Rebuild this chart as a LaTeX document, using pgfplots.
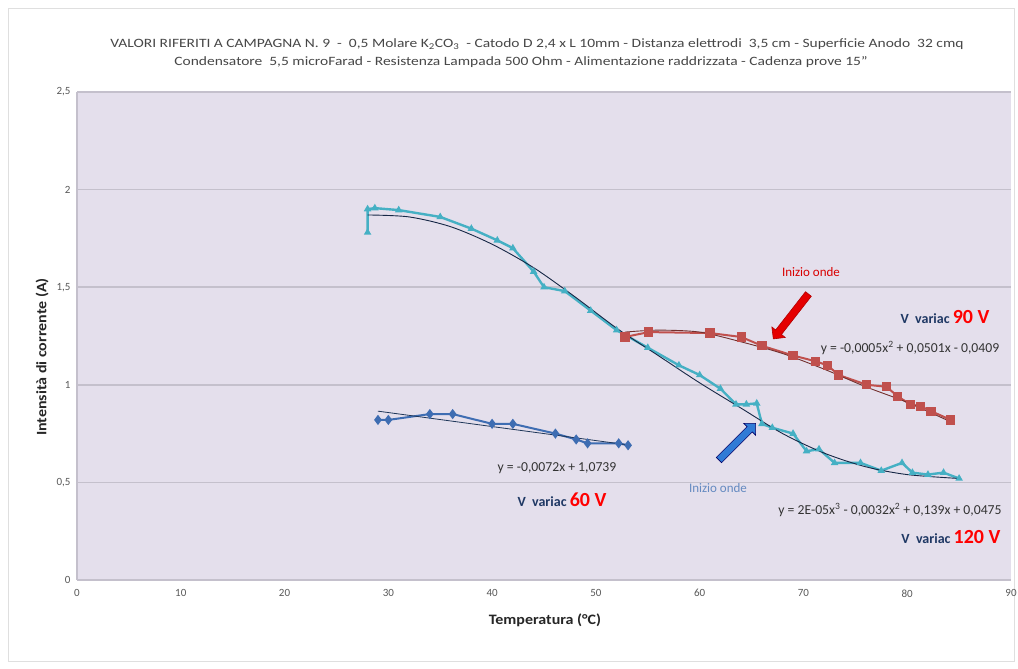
\documentclass[border=0pt]{standalone}
\usepackage{fontspec}
\setmainfont{Carlito}
\usepackage{pgfplots}
\pgfplotsset{compat=1.18}
\usetikzlibrary{shapes.arrows}
\definecolor{bgc}{HTML}{E4DFEC}
\definecolor{gridc}{HTML}{C4C0CC}
\definecolor{s60}{HTML}{3E6DB2}
\definecolor{s90}{HTML}{C0504D}
\definecolor{s120}{HTML}{45B0C4}
\definecolor{navy}{HTML}{1F3864}
\definecolor{tickc}{HTML}{595959}
\begin{document}
\begin{tikzpicture}[x=1pt,y=1pt]
\path[use as bounding box] (0,0) rectangle (1018,669);
\fill[white] (0,0) rectangle (1018,669);
\draw[gray!25, line width=0.8pt] (8,8) rectangle (1014,661);
\begin{axis}[
  at={(77pt,89pt)}, anchor=south west,
  scale only axis, width=934pt, height=488pt,
  xmin=0, xmax=90, ymin=0, ymax=2.5,
  xtick={0,10,...,90}, ytick={0,0.5,1,1.5,2,2.5},
  yticklabels={0,{0,5},1,{1,5},2,{2,5}},
  axis background/.style={fill=bgc},
  ymajorgrids, grid style={line width=1.6pt, color=gridc},
  axis lines*=left, axis line style={gridc, line width=1.2pt},
  major tick length=0pt,
  /pgf/number format/assume math mode=true,
  tick label style={font=\fontsize{11}{12}\selectfont, text=tickc},
  xticklabel style={yshift=-6pt},
  yticklabel style={xshift=-3pt},
  clip=false,
]
% 120 V
\addplot[s120, line width=2.4pt, mark=triangle*, mark size=2pt, mark options={fill=s120}] coordinates {
(28,1.78) (28,1.90) (28.7,1.905) (31,1.895) (35,1.86) (38,1.80) (40.5,1.74) (42,1.70)
(44,1.58) (45,1.50) (47,1.48) (49.5,1.38) (52,1.28) (55,1.19) (58,1.10) (60,1.05)
(62,0.98) (63.5,0.90) (64.5,0.90) (65.5,0.905) (66,0.80) (67,0.78) (69,0.75) (70.3,0.66)
(71.5,0.67) (73,0.60) (75.5,0.60) (77.5,0.56) (79.5,0.60) (80.5,0.55) (82,0.54) (83.5,0.55) (85,0.52)};
\addplot[navy!70!black, line width=0.9pt, smooth] coordinates {
(28,1.87) (32,1.86) (36,1.81) (40,1.72) (44,1.60) (48,1.45) (52,1.29) (56,1.15)
(60,1.01) (64,0.88) (68,0.75) (72,0.65) (76,0.58) (80,0.54) (85,0.52)};
% 90 V
\addplot[s90, line width=2pt, mark=square*, mark size=3.6pt, mark options={fill=s90}] coordinates {
(52.8,1.245) (55.1,1.27) (61,1.265) (64,1.245) (66,1.20) (69,1.15) (71.2,1.12) (72.3,1.10)
(73.4,1.05) (76.1,1.00) (78,0.99) (79.1,0.94) (80.3,0.90) (81.3,0.89) (82.3,0.865) (84.2,0.82)};
\addplot[s90!60!black, line width=0.9pt, smooth] coordinates {
(52.8,1.27) (56,1.28) (60,1.27) (64,1.22) (68,1.16) (72,1.08) (76,0.99) (80,0.91) (84.2,0.81)};
% 60 V
\addplot[s60, line width=2pt, mark=diamond*, mark size=3.5pt, mark options={fill=s60}] coordinates {
(29,0.82) (30,0.82) (34,0.85) (36.2,0.85) (40,0.80) (42,0.80) (46.1,0.75) (48.1,0.72)
(49.2,0.70) (52.2,0.70) (53.1,0.69)};
\addplot[s60!50!black, line width=0.8pt] coordinates {(29,0.865) (53.1,0.692)};
\end{axis}
% titles
\node[font=\fontsize{15.5}{17}\selectfont, text=black!72, yscale=0.82] at (537,625) {VALORI RIFERITI A CAMPAGNA N. 9 \ - \ 0,5 Molare K\textsubscript{2}CO\textsubscript{3} \ - Catodo D 2,4 x L 10mm - Distanza elettrodi \ 3,5 cm - Superficie Anodo \ 32 cmq};
\node[font=\fontsize{15.5}{17}\selectfont, text=black!72, yscale=0.82] at (521,607) {Condensatore \ 5,5 microFarad - Resistenza Lampada 500 Ohm - Alimentazione raddrizzata - Cadenza prove 15''};
% axis labels
\node[font=\bfseries\fontsize{16}{18}\selectfont, text=black!85, yscale=0.9] at (545,49) {Temperatura (°C)};
\node[font=\bfseries\fontsize{16}{18}\selectfont, text=black!85, rotate=90, yscale=0.9] at (42,312) {Intensità di corrente (A)};
% annotations
\node[font=\fontsize{13}{14}\selectfont, text=red!85!black] at (811,397) {Inizio onde};
\node[single arrow, draw=red!70!black, fill=red!90!black, line width=0.6pt, minimum height=57pt, minimum width=17pt, single arrow head extend=3pt, inner sep=2pt, rotate=232] at (792,354) {};
\node[anchor=east, font=\fontsize{14}{16}\selectfont] at (993,352) {\textbf{\textcolor{navy}{V \ variac}} \textcolor{red}{\bfseries\fontsize{20}{22}\selectfont 90 V}};
\node[font=\fontsize{13.7}{15}\selectfont, text=black!80] at (910,321) {y = -0,0005x\textsuperscript{2} + 0,0501x - 0,0409};
\node[font=\fontsize{13.7}{15}\selectfont, text=black!80] at (557,201) {y = -0,0072x + 1,0739};
\node[font=\fontsize{14}{16}\selectfont] at (562,169) {\textbf{\textcolor{navy}{V \ variac}} \textcolor{red}{\bfseries\fontsize{20}{22}\selectfont 60 V}};
\node[single arrow, draw=blue!40!black, fill=s120!70!blue, line width=0.6pt, minimum height=52pt, minimum width=17pt, single arrow head extend=3pt, inner sep=2pt, rotate=45] at (736,226) {};
\node[font=\fontsize{13}{14}\selectfont, text=s60!80!white] at (718,181) {Inizio onde};
\node[font=\fontsize{13.7}{15}\selectfont, text=black!80] at (890,159) {y = 2E-05x\textsuperscript{3} - 0,0032x\textsuperscript{2} + 0,139x + 0,0475};
\node[anchor=east, font=\fontsize{14}{16}\selectfont] at (1004,132) {\textbf{\textcolor{navy}{V \ variac}} \textcolor{red}{\bfseries\fontsize{20}{22}\selectfont 120 V}};
\end{tikzpicture}
\end{document}
